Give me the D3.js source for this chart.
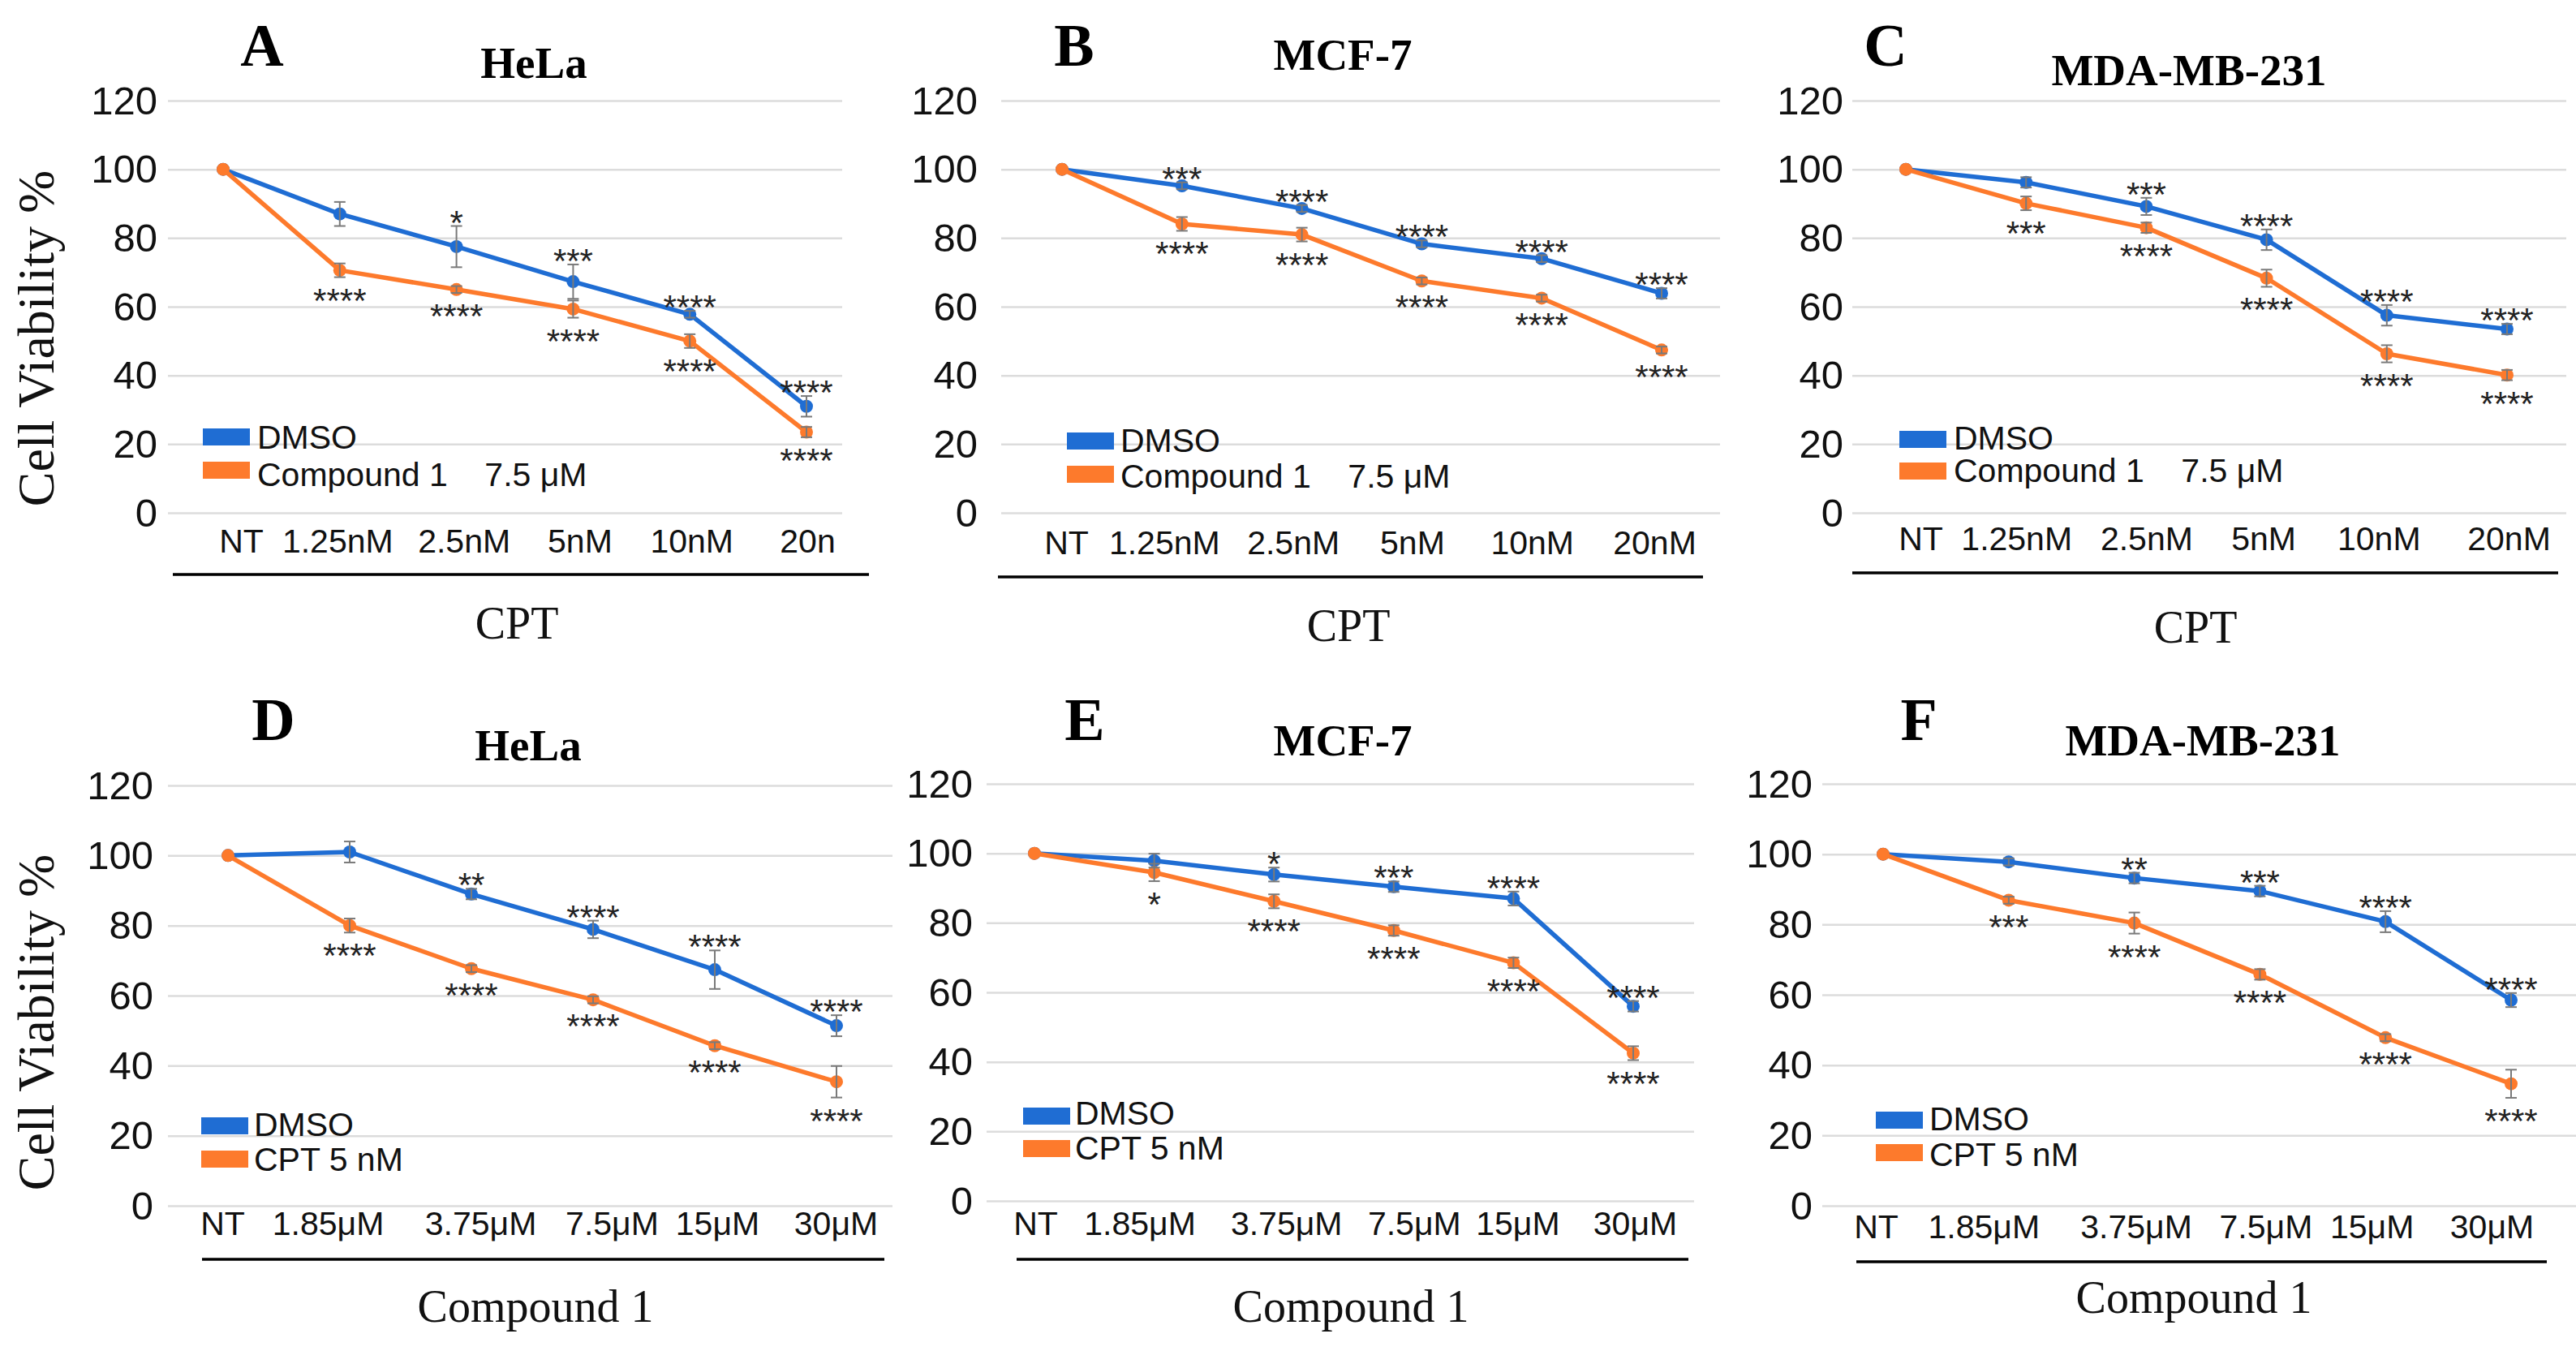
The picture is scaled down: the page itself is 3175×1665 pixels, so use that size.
<!DOCTYPE html>
<html><head><meta charset="utf-8">
<script src="https://cdn.jsdelivr.net/npm/d3@7"></script>
<style>body{margin:0;background:#fff} svg{display:block}</style>
</head><body>
<svg id="chart" width="3175" height="1665"></svg>
<script>
// ---------- data ----------
const yTicks = [0, 20, 40, 60, 80, 100, 120];
const cptDosesA = ["NT", "1.25nM", "2.5nM", "5nM", "10nM", "20n"];
const cptDoses = ["NT", "1.25nM", "2.5nM", "5nM", "10nM", "20nM"];
const cmpDoses = ["NT", "1.85μM", "3.75μM", "7.5μM", "15μM", "30μM"];
const panelLetters = ["A", "B", "C", "D", "E", "F"];
const cellLines = ["HeLa", "MCF-7", "MDA-MB-231", "HeLa", "MCF-7", "MDA-MB-231"];
const xTitles = ["CPT", "CPT", "CPT", "Compound 1", "Compound 1", "Compound 1"];
const legendTop = ["DMSO", "Compound 1    7.5 μM"];
const legendBottom = ["DMSO", "CPT 5 nM"];
const yTitle = "Cell Viability %";

const aDmso = [100, 87, 77.5, 67.3, 57.8, 31];
const aDmsoErr = [0, 3.5, 6, 5, 1, 3];
const aCmp = [100, 70.6, 65, 59.3, 50, 23.5];
const aCmpErr = [0, 2, 1, 2.5, 2, 1.5];
const aDmsoSig = ["", "", "*", "***", "****", "****"];
const aCmpSig = ["", "****", "****", "****", "****", "****"];

const bDmso = [100, 95.2, 88.6, 78.3, 74, 63.9];
const bDmsoErr = [0, 1, 1, 1, 1, 1.5];
const bCmp = [100, 84.1, 81, 67.5, 62.5, 47.4];
const bCmpErr = [0, 2, 2, 1, 1, 1];
const bDmsoSig = ["", "***", "****", "****", "****", "****"];
const bCmpSig = ["", "****", "****", "****", "****", "****"];

const cDmso = [100, 96.2, 89.2, 79.5, 57.5, 53.5];
const cDmsoErr = [0, 1.5, 2.5, 3, 3, 1.5];
const cCmp = [100, 90.1, 83, 68.3, 46.3, 40.1];
const cCmpErr = [0, 2, 1.5, 2.5, 2.5, 1.5];
const cDmsoSig = ["", "", "***", "****", "****", "****"];
const cCmpSig = ["", "***", "****", "****", "****", "****"];

const dDmso = [100, 101, 89, 78.9, 67.4, 51.4];
const dDmsoErr = [0, 3, 1.5, 2.5, 5.5, 3];
const dCpt = [100, 80, 67.7, 58.8, 45.7, 35.4];
const dCptErr = [0, 2, 1, 1, 1, 4.5];
const dDmsoSig = ["", "", "**", "****", "****", "****"];
const dCptSig = ["", "****", "****", "****", "****", "****"];

const eDmso = [100, 97.9, 93.9, 90.4, 87, 56];
const eDmsoErr = [0, 2, 2, 1.5, 2, 1.5];
const eCpt = [100, 94.5, 86.2, 77.8, 68.5, 42.5];
const eCptErr = [0, 2.5, 2, 1.5, 1.5, 2];
const eDmsoSig = ["", "", "*", "***", "****", "****"];
const eCptSig = ["", "*", "****", "****", "****", "****"];

const fDmso = [100, 97.8, 93.2, 89.5, 80.8, 58.5];
const fDmsoErr = [0, 1, 1.5, 1.5, 3, 2];
const fCpt = [100, 86.9, 80.4, 65.8, 47.8, 34.7];
const fCptErr = [0, 1, 3, 1.5, 1, 4];
const fDmsoSig = ["", "", "**", "***", "****", "****"];
const fCptSig = ["", "***", "****", "****", "****", "****"];

// ---------- layout (positions only) ----------
const layout = [
  {cats: cptDosesA, s: [[aDmso, aDmsoErr, aDmsoSig], [aCmp, aCmpErr, aCmpSig]], leg: legendTop,
   y120: 124, y0: 632, gx: [207, 1038], tickR: 194, px: [275, 994], lblY: 681, lblDx: [22, -3, 9, 8, 2, 1], line: [213, 1071, 708],
   tx: 637, ty: 787, lx: 323, ly: 81, hx: 658, hy: 96, legX: 250, legY: [528, 569], legT: 317, legB: [553, 599], yt: 417},
  {cats: cptDoses, s: [[bDmso, bDmsoErr, bDmsoSig], [bCmp, bCmpErr, bCmpSig]], leg: legendTop,
   y120: 124, y0: 632, gx: [1234, 2120], tickR: 1205, px: [1309, 2048], lblY: 683, lblDx: [5, -22, -11, -12, -12, -9], line: [1230, 2099, 711],
   tx: 1662, ty: 790, lx: 1324, ly: 81, hx: 1655, hy: 86, legX: 1315, legY: [533, 574], legT: 1381, legB: [557, 601]},
  {cats: cptDoses, s: [[cDmso, cDmsoErr, cDmsoSig], [cCmp, cCmpErr, cCmpSig]], leg: legendTop,
   y120: 124, y0: 632, gx: [2283, 3163], tickR: 2272, px: [2349, 3090], lblY: 678, lblDx: [18, -12, 0, -4, -10, 2], line: [2283, 3153, 706],
   tx: 2706, ty: 792, lx: 2324, ly: 81, hx: 2698, hy: 105, legX: 2341, legY: [531, 570], legT: 2408, legB: [554, 594]},
  {cats: cmpDoses, s: [[dDmso, dDmsoErr, dDmsoSig], [dCpt, dCptErr, dCptSig]], leg: legendBottom,
   y120: 968, y0: 1486, gx: [207, 1100], tickR: 189, px: [281, 1031], lblY: 1522, lblDx: [-7, -27, 11, 23, 3, -1], line: [249, 1090, 1552],
   tx: 660, ty: 1629, lx: 337, ly: 912, hx: 651, hy: 937, legX: 248, legY: [1377, 1418], legT: 313, legB: [1400, 1443], yt: 1260},
  {cats: cmpDoses, s: [[eDmso, eDmsoErr, eDmsoSig], [eCpt, eCptErr, eCptSig]], leg: legendBottom,
   y120: 966, y0: 1480, gx: [1216, 2088], tickR: 1199, px: [1275, 2013], lblY: 1522, lblDx: [1, -18, 15, 25, 5, 2], line: [1253, 2081, 1552],
   tx: 1665, ty: 1629, lx: 1337, ly: 912, hx: 1655, hy: 931, legX: 1261, legY: [1365, 1405], legT: 1325, legB: [1386, 1429]},
  {cats: cmpDoses, s: [[fDmso, fDmsoErr, fDmsoSig], [fCpt, fCptErr, fCptSig]], leg: legendBottom,
   y120: 966, y0: 1486, gx: [2246, 3175], tickR: 2234, px: [2321, 3095], lblY: 1526, lblDx: [-9, -31, 2, 7, -17, -24], line: [2288, 3139, 1555],
   tx: 2704, ty: 1618, lx: 2365, ly: 912, hx: 2715, hy: 931, legX: 2312, legY: [1370, 1410], legT: 2378, legB: [1393, 1437]}
];

const colors = ["#1f6dd3", "#fd7a2c"];
const SANS = "'Liberation Sans', Arial, sans-serif";
const SERIF = "'Liberation Serif', 'Times New Roman', serif";

const svg = d3.select("#chart");
svg.append("rect").attr("width", 3175).attr("height", 1665).attr("fill", "#fff");

layout.forEach((L, pi) => {
  const g = svg.append("g");
  const y = d3.scaleLinear().domain([0, 120]).range([L.y0, L.y120]);
  const x = d3.scalePoint().domain(L.cats).range(L.px);

  // gridlines + y tick labels
  const yAxis = d3.axisLeft(y).tickValues(yTicks)
    .tickSizeInner(-(L.gx[1] - L.gx[0])).tickSizeOuter(0)
    .tickPadding(L.gx[0] - L.tickR);
  const ga = g.append("g").attr("transform", `translate(${L.gx[0]},0)`).call(yAxis);
  ga.select(".domain").remove();
  ga.selectAll(".tick line").attr("stroke", "#dcdcdc").attr("stroke-width", 2.5);
  ga.selectAll(".tick text").attr("font-family", SANS).attr("font-size", 49).attr("fill", "#111").attr("dy", "0.33em");

  // x tick labels
  const xAxis = d3.axisBottom(x).tickSize(0).tickPadding(0);
  const gx = g.append("g").attr("transform", `translate(0,${L.lblY})`).call(xAxis);
  gx.select(".domain").remove();
  gx.selectAll(".tick text").attr("y", 0).attr("dy", 0)
    .attr("dx", (d, i) => L.lblDx[i])
    .attr("font-family", SANS).attr("font-size", 41).attr("fill", "#111");

  // black separator line under labels
  g.append("line").attr("x1", L.line[0]).attr("x2", L.line[1]).attr("y1", L.line[2]).attr("y2", L.line[2])
    .attr("stroke", "#000").attr("stroke-width", 3.5);

  // axis title
  g.append("text").attr("x", L.tx).attr("y", L.ty).attr("text-anchor", "middle")
    .attr("font-family", SERIF).attr("font-size", 56).attr("fill", "#111").text(xTitles[pi]);

  // panel letter + title
  g.append("text").attr("x", L.lx).attr("y", L.ly).attr("text-anchor", "middle")
    .attr("font-family", SERIF).attr("font-weight", "bold").attr("font-size", 74).attr("fill", "#000").text(panelLetters[pi]);
  g.append("text").attr("x", L.hx).attr("y", L.hy).attr("text-anchor", "middle")
    .attr("font-family", SERIF).attr("font-weight", "bold").attr("font-size", 55).attr("fill", "#000").text(cellLines[pi]);

  // y title
  if (L.yt) {
    g.append("text").attr("transform", `translate(66,${L.yt}) rotate(-90)`).attr("text-anchor", "middle")
      .attr("font-family", SERIF).attr("font-size", 64).attr("fill", "#111").text(yTitle);
  }

  // series
  const line = d3.line().x((d, i) => x(L.cats[i])).y(d => y(d));
  L.s.forEach(([vals, errs, sigs], si) => {
    g.append("path").datum(vals).attr("d", line).attr("fill", "none")
      .attr("stroke", colors[si]).attr("stroke-width", 5.5).attr("stroke-linejoin", "round");
    g.selectAll(null).data(vals).enter().append("circle")
      .attr("cx", (d, i) => x(L.cats[i])).attr("cy", d => y(d)).attr("r", 8).attr("fill", colors[si]);
  });
  L.s.forEach(([vals, errs, sigs], si) => {
    const eb = g.selectAll(null).data(vals.map((v, i) => ({v, e: errs[i], c: L.cats[i]})).filter(d => d.e > 0))
      .enter().append("g").attr("stroke", "#7a7a7a").attr("stroke-width", 2);
    eb.append("line").attr("x1", d => x(d.c)).attr("x2", d => x(d.c)).attr("y1", d => y(d.v - d.e)).attr("y2", d => y(d.v + d.e));
    eb.append("line").attr("x1", d => x(d.c) - 7).attr("x2", d => x(d.c) + 7).attr("y1", d => y(d.v - d.e)).attr("y2", d => y(d.v - d.e));
    eb.append("line").attr("x1", d => x(d.c) - 7).attr("x2", d => x(d.c) + 7).attr("y1", d => y(d.v + d.e)).attr("y2", d => y(d.v + d.e));
    // significance stars: DMSO above, treatment below
    g.selectAll(null).data(vals.map((v, i) => ({v, e: errs[i], c: L.cats[i], s: sigs[i]})).filter(d => d.s))
      .enter().append("text")
      .attr("x", d => x(d.c)).attr("text-anchor", "middle")
      .attr("y", d => si === 0 ? y(d.v + d.e) + 10 : y(d.v - d.e) + 43)
      .attr("font-family", SANS).attr("font-size", 42).attr("fill", "#222").text(d => d.s);
  });

  // legend
  L.leg.forEach((name, li) => {
    g.append("rect").attr("x", L.legX).attr("y", L.legY[li]).attr("width", 58).attr("height", 21).attr("fill", colors[li]);
    g.append("text").attr("x", L.legT).attr("y", L.legB[li]).attr("font-family", SANS).attr("font-size", 41)
      .attr("fill", "#111").style("white-space", "pre").text(name);
  });
});
</script>
</body></html>
